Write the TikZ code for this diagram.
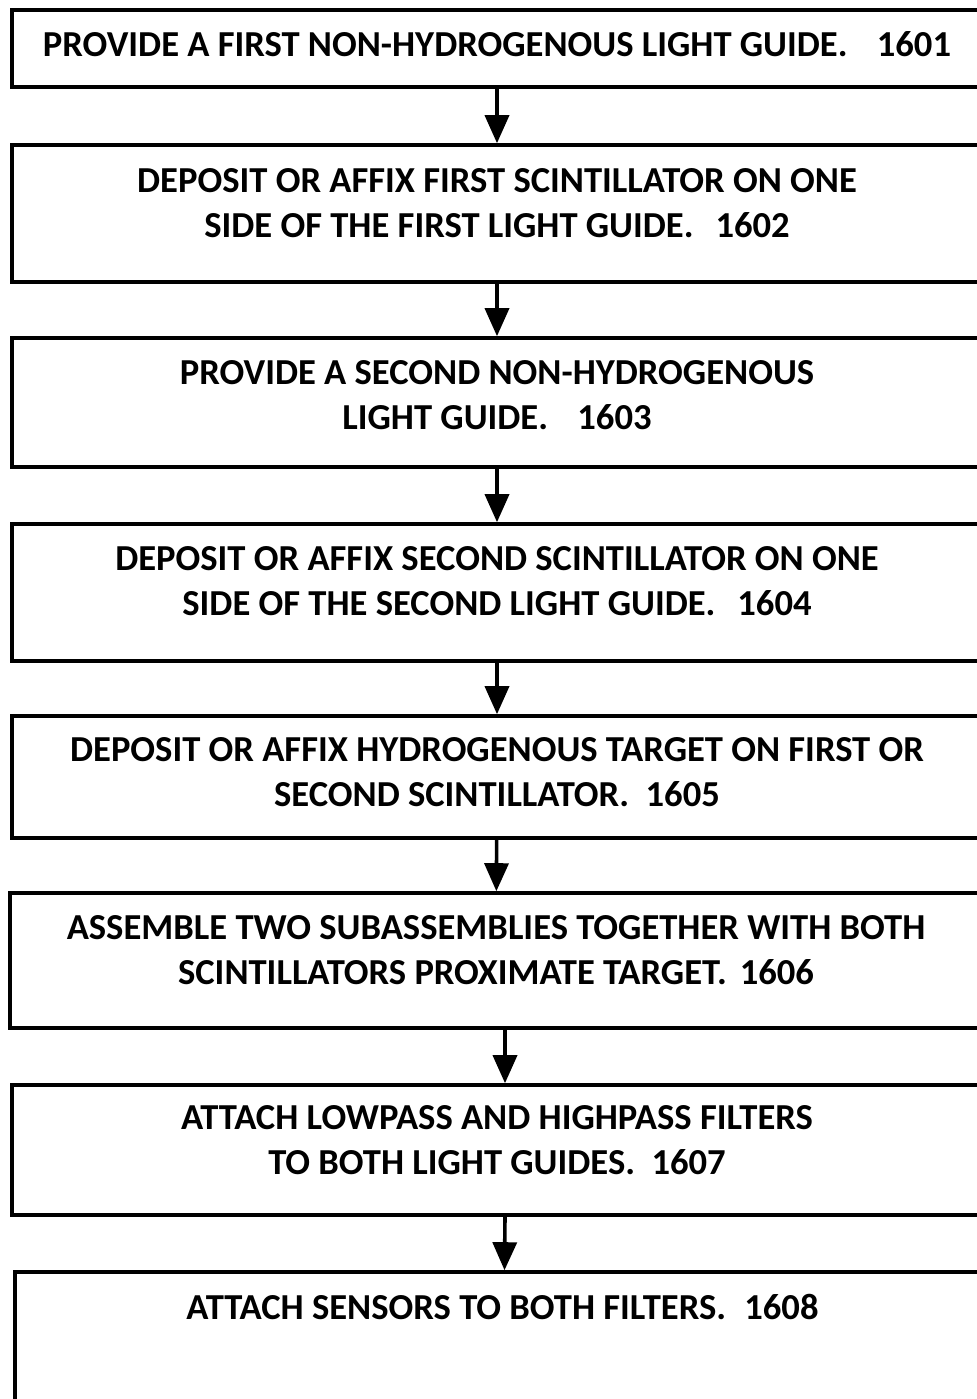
\documentclass[tikz,border=0pt]{standalone}
\usepackage{fontspec}
\setmainfont{Carlito}
\usetikzlibrary{arrows.meta}

\tikzset{
  box/.style={draw,line width=1.8pt,minimum width=485pt,inner sep=0pt},
  steptxt/.style={anchor=north,inner sep=0pt,align=center,font=\fontsize{18.3}{22.5}\selectfont\bfseries},
  arr/.style={line width=1.8pt,-{Triangle[length=14pt,width=12pt]}}
}

\begin{document}
\begin{tikzpicture}[x=0.5pt,y=-0.5pt]

\useasboundingbox (0,0) rectangle (977,1399);
\clip (0,0) rectangle (977,1399);

% boxes
\node[box,minimum height=38.5pt] (b1) at (497,48.5) {};
\node[box,minimum height=68.5pt] (b2) at (497,213.5) {};
\node[box,minimum height=64.5pt] (b3) at (497,402.5) {};
\node[box,minimum height=68.5pt] (b4) at (497,592.5) {};
\node[box,minimum height=61pt] (b5) at (497,777) {};
\node[box,minimum height=67.5pt,minimum width=486pt] (b6) at (496,960.5) {};
\node[box,minimum height=65pt] (b7) at (497,1150) {};
\node[box,minimum height=74pt,minimum width=483.5pt] (b8) at (498.5,1346) {};

% texts
\node[steptxt] (t1) at ([yshift=-11.5pt]b1.north) {PROVIDE A FIRST NON-HYDROGENOUS LIGHT GUIDE.\hspace{0.8em}1601};
\node[steptxt] (t2) at ([yshift=-12.5pt]b2.north) {DEPOSIT OR AFFIX FIRST SCINTILLATOR ON ONE\\SIDE OF THE FIRST LIGHT GUIDE.\hspace{0.6em}1602};
\node[steptxt] (t3) at ([yshift=-12pt]b3.north) {PROVIDE A SECOND NON-HYDROGENOUS\\LIGHT GUIDE.\hspace{0.8em}1603};
\node[steptxt] (t4) at ([yshift=-12pt]b4.north) {DEPOSIT OR AFFIX SECOND SCINTILLATOR ON ONE\\SIDE OF THE SECOND LIGHT GUIDE.\hspace{0.6em}1604};
\node[steptxt] (t5) at ([yshift=-11.5pt]b5.north) {DEPOSIT OR AFFIX HYDROGENOUS TARGET ON FIRST OR\\SECOND SCINTILLATOR.\hspace{0.45em}1605};
\node[steptxt] (t6) at ([yshift=-12pt]b6.north) {ASSEMBLE TWO SUBASSEMBLIES TOGETHER WITH BOTH\\SCINTILLATORS PROXIMATE TARGET.\hspace{0.35em}1606};
\node[steptxt] (t7) at ([yshift=-11pt]b7.north) {ATTACH LOWPASS AND HIGHPASS FILTERS\\TO BOTH LIGHT GUIDES.\hspace{0.45em}1607};
\node[steptxt] (t8) at ([yshift=-12pt,xshift=2pt]b8.north) {ATTACH SENSORS TO BOTH FILTERS.\hspace{0.5em}1608};

% arrows
\draw[arr] (b1) -- (b2);
\draw[arr] (b2) -- (b3);
\draw[arr] (b3) -- (b4);
\draw[arr] (b4) -- (b5);
\draw[arr] (b5) -- (b6);
\draw[arr] ([xshift=4.5pt]b6.south) -- ([xshift=4pt]b7.north);
\draw[arr] ([xshift=4pt]b7.south) -- ([xshift=3pt]b8.north);

\end{tikzpicture}
\end{document}
